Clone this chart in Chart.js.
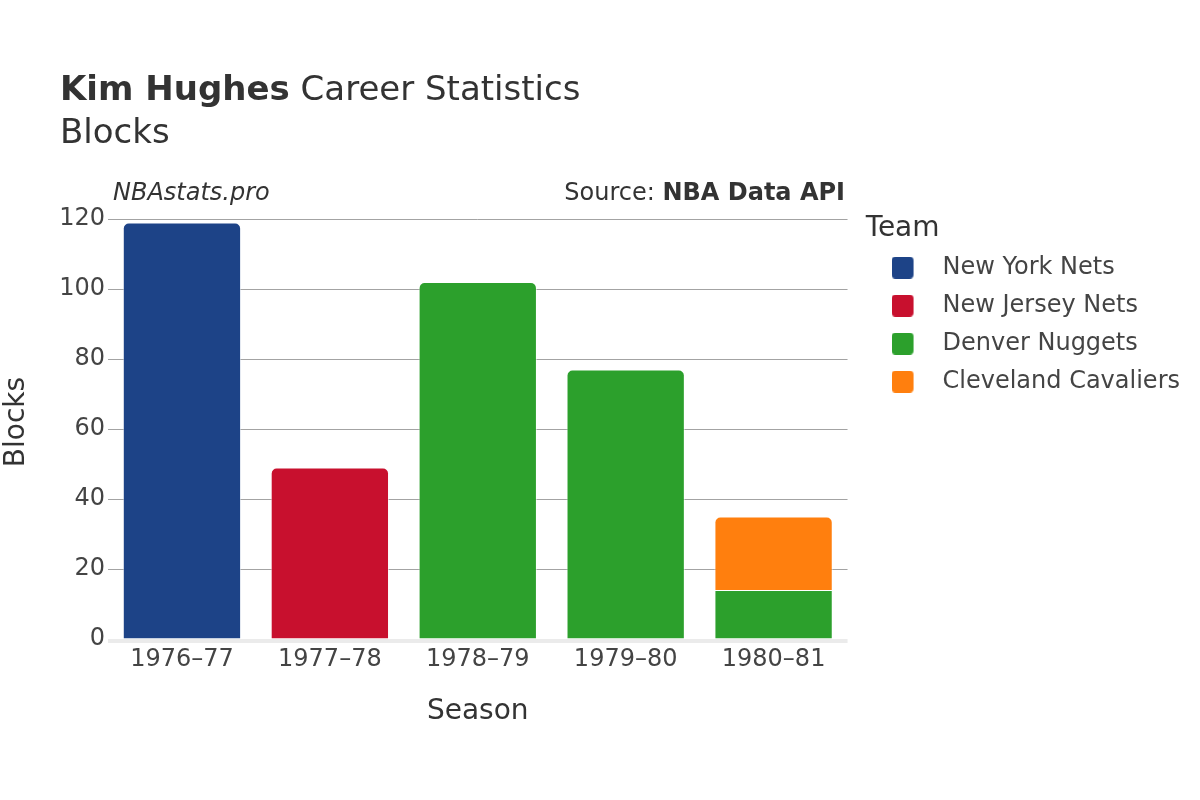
<!DOCTYPE html>
<html>
<head>
<meta charset="utf-8">
<script src="https://cdn.jsdelivr.net/npm/chart.js@4/dist/chart.umd.min.js"></script>
<style>
  body { margin: 0; background: #fff; font-family: 'DejaVu Sans', sans-serif; color: #333; }
  #wrap { position: relative; width: 1200px; height: 800px; overflow: hidden; }
  canvas { position: absolute; left: 0; top: 0; }
  .txt { position: absolute; white-space: nowrap; }
</style>
</head>
<body>
<div id="wrap">
  <canvas id="chart" width="1200" height="800"></canvas>
  <div class="txt" style="left:60px; top:68px; font-size:34px; line-height:40px;"><b>Kim Hughes</b> Career Statistics</div>
  <div class="txt" style="left:60px; top:111px; font-size:34px; line-height:40px;">Blocks</div>
  <div class="txt" style="left:113px; top:177px; font-size:24px; line-height:30px; font-style:italic;">NBAstats.pro</div>
  <div class="txt" style="right:355px; top:177px; font-size:24px; line-height:30px;">Source: <b>NBA Data API</b></div>
</div>
<script>
const seasons = ['1976–77', '1977–78', '1978–79', '1979–80', '1980–81']
const teams = ['New York Nets', 'New Jersey Nets', 'Denver Nuggets', 'Cleveland Cavaliers']
const teamColors = ['#1d4387', '#c8102e', '#2ca02c', '#ff7f0e']
const newYorkNets = [119, null, null, null, null]
const newJerseyNets = [null, 49, null, null, null]
const denverNuggets = [null, null, 102, 77, 14]
const clevelandCavaliers = [null, null, null, null, 21]
const yTicks = [0, 20, 40, 60, 80, 100, 120]

const seriesValues = [newYorkNets, newJerseyNets, denverNuggets, clevelandCavaliers]

// rounded square legend marker (transparent strip on the right to line up with the text)
const makeMarker = (color) => {
  const c = document.createElement('canvas')
  c.width = 27
  c.height = 22
  const g = c.getContext('2d')
  g.fillStyle = color
  g.beginPath()
  g.roundRect(0, 0, 22, 22, 4)
  g.fill()
  return c
}
const markers = teamColors.map(makeMarker)

// light band under the bars along the zero line
const baseBand = {
  id: 'baseBand',
  beforeDatasetsDraw(chart) {
    const { ctx, chartArea } = chart
    ctx.save()
    ctx.fillStyle = '#ebebeb'
    ctx.fillRect(chartArea.left, chartArea.bottom, chartArea.right - chartArea.left, 4)
    ctx.restore()
  },
}

const ctx = document.getElementById('chart')

new Chart(ctx, {
  type: 'bar',
  data: {
    labels: seasons,
    datasets: teams.map((team, i) => ({
      label: team,
      data: seriesValues[i],
      yAxisID: 'y',
      backgroundColor: teamColors[i],
      borderColor: 'rgba(255,255,255,0.55)',
      borderWidth: 1,
      borderRadius: 6,
      borderSkipped: 'start',
      categoryPercentage: 1,
      barPercentage: 0.8,
    })),
  },
  plugins: [baseBand],
  options: {
    responsive: false,
    devicePixelRatio: 1,
    animation: false,
    layout: { padding: { top: 205, left: 0, right: 10, bottom: 0 } },
    plugins: {
      tooltip: { enabled: false },
      legend: {
        position: 'right',
        align: 'start',
        maxWidth: 400,
        title: {
          display: true,
          text: 'Team',
          position: 'start',
          color: '#333',
          font: { family: 'DejaVu Sans', size: 28 },
          padding: { top: 10, bottom: -7 },
        },
        labels: {
          usePointStyle: true,
          pointStyleWidth: 51,
          boxHeight: 22,
          padding: 14,
          color: '#444',
          font: { family: 'DejaVu Sans', size: 24 },
          generateLabels: (chart) =>
            Chart.defaults.plugins.legend.labels
              .generateLabels(chart)
              .map((item, i) => ({ ...item, pointStyle: markers[i], lineWidth: 0 })),
        },
      },
    },
    scales: {
      x: {
        stacked: true,
        grid: { display: false },
        border: { display: false },
        ticks: {
          color: '#444',
          padding: -2,
          font: { family: 'DejaVu Sans', size: 24 },
        },
        title: {
          display: true,
          text: 'Season',
          color: '#333',
          font: { family: 'DejaVu Sans', size: 28 },
          padding: { top: 0, bottom: 71 },
        },
        afterFit: (scale) => { scale.height = 161 },
      },
      y: {
        stacked: true,
        min: 0,
        max: 124,
        afterBuildTicks: (scale) => {
          scale.ticks = yTicks.map((v) => ({ value: v }))
        },
        grid: {
          drawTicks: false,
          color: (c) => (c.tick && c.tick.value === 0 ? 'rgba(0,0,0,0)' : '#a3a3a3'),
          lineWidth: 1,
        },
        border: { display: false },
        ticks: {
          color: '#444',
          padding: 3,
          font: { family: 'DejaVu Sans', size: 24 },
        },
        title: {
          display: true,
          text: 'Blocks',
          color: '#333',
          font: { family: 'DejaVu Sans', size: 28 },
          padding: { top: 0, bottom: 0 },
        },
        afterFit: (scale) => { scale.width = 108 },
      },
      // empty spacer between plot and legend
      gap: {
        type: 'linear',
        position: 'right',
        grid: { display: false },
        border: { display: false },
        ticks: { display: false },
        afterFit: (scale) => { scale.width = 18 },
      },
    },
  },
})
</script>
</body>
</html>
